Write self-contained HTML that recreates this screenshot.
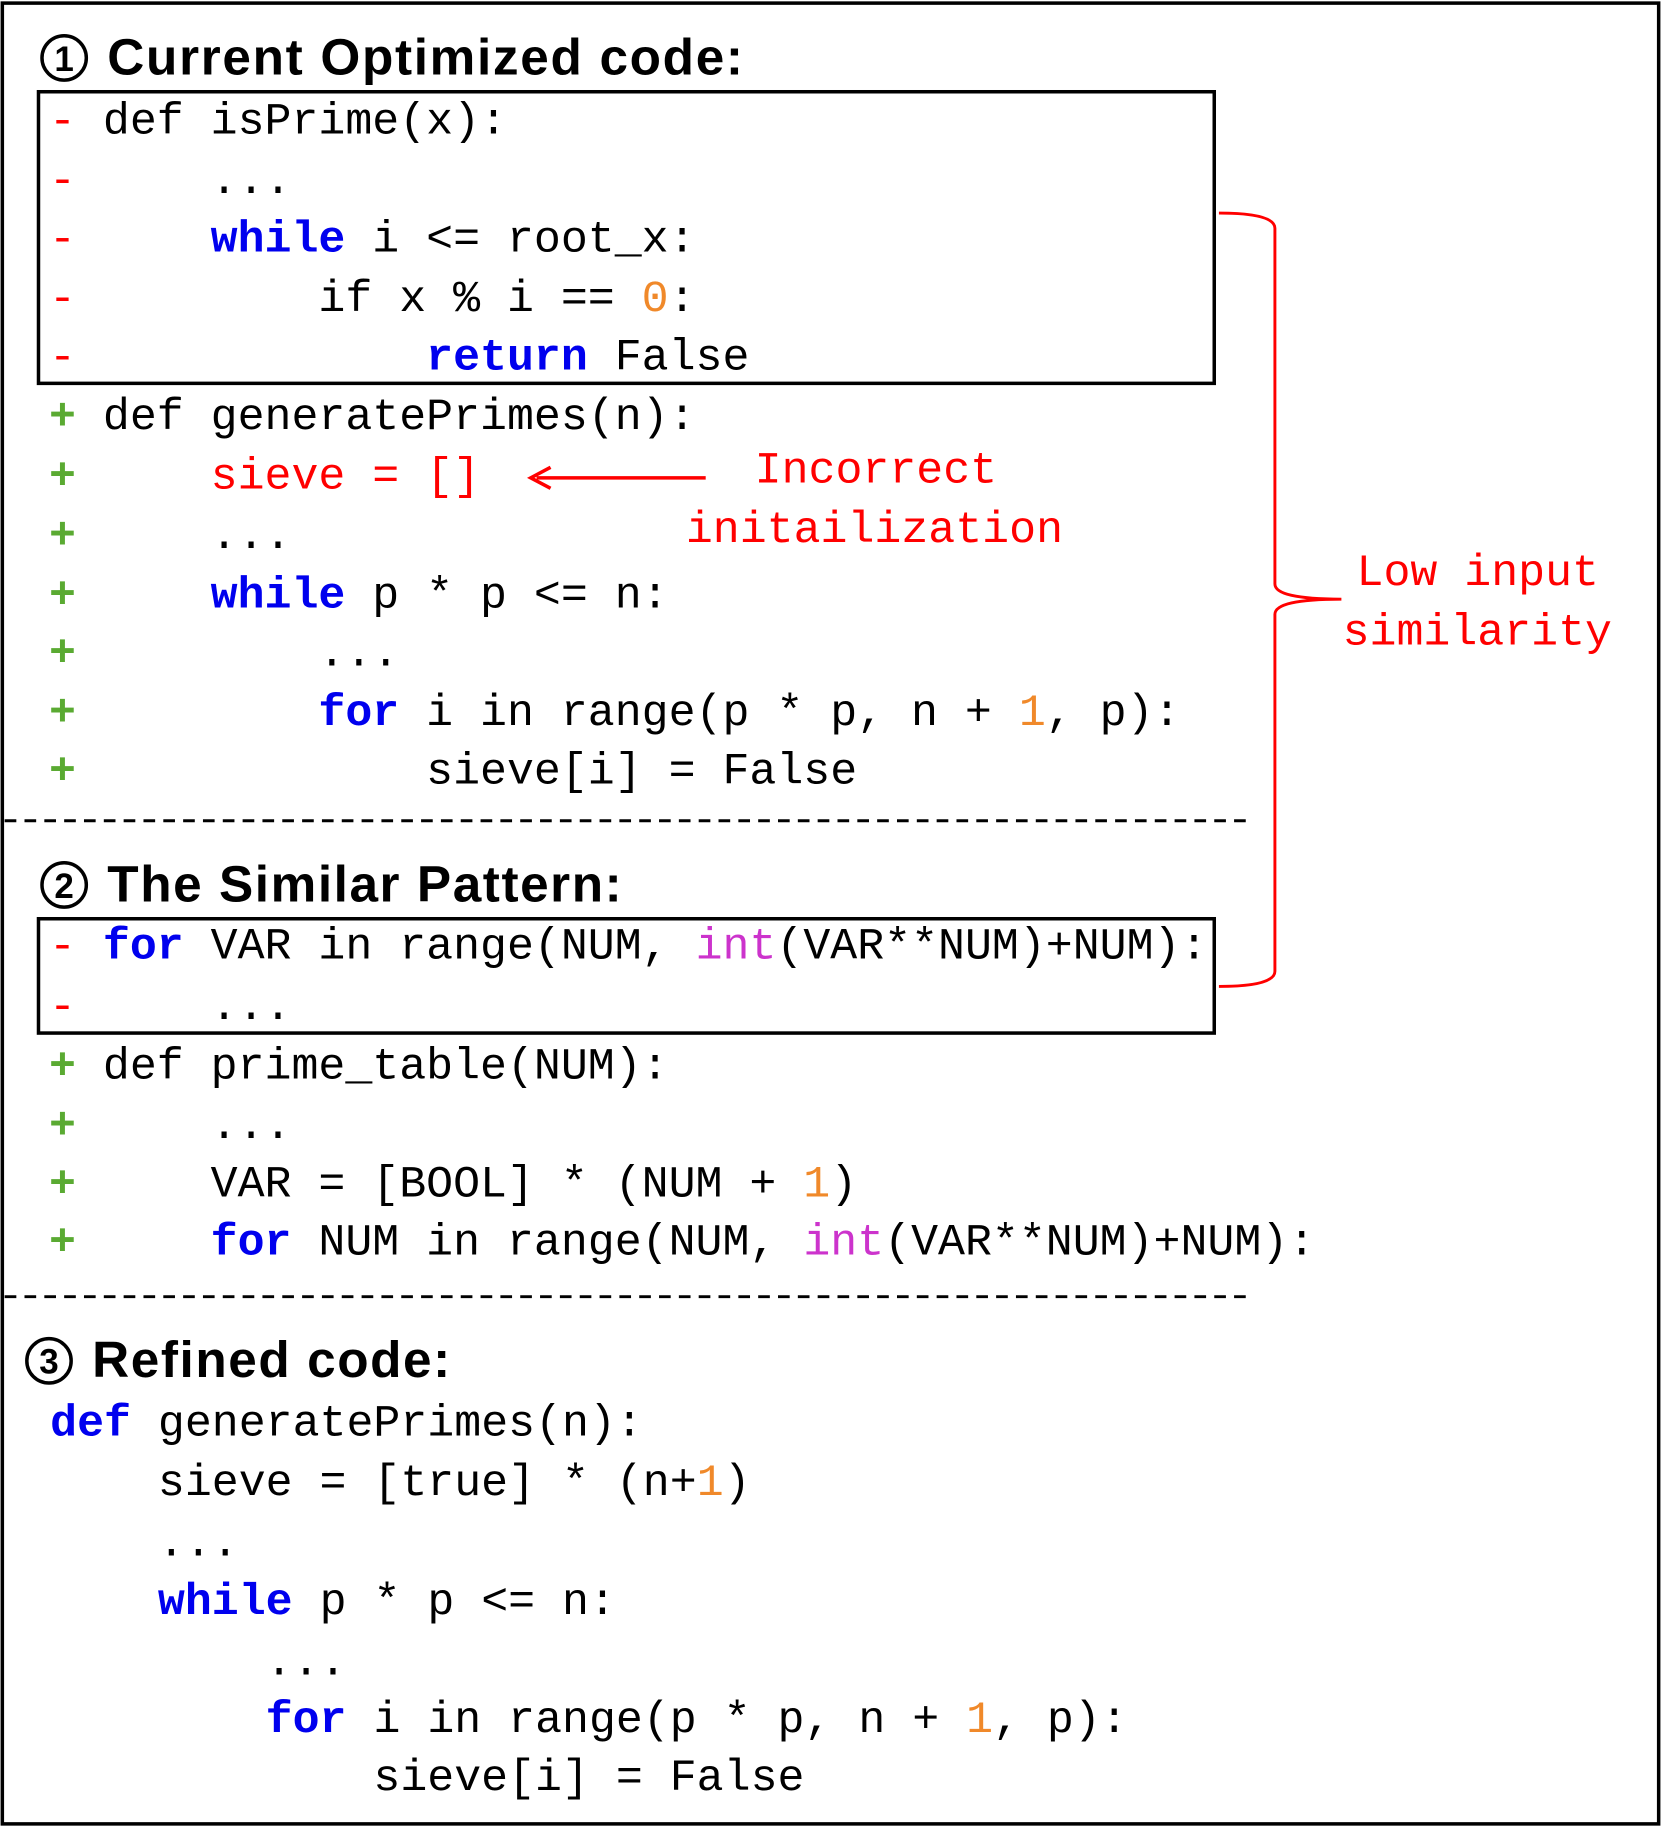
<!DOCTYPE html>
<html><head><meta charset="utf-8"><style>
html,body{margin:0;padding:0;background:#fff;}
svg{display:block;}
svg text{white-space:pre;}
.c{font-family:"Liberation Mono",monospace;font-size:38.5px;fill:#000;}
.t{font-family:"Liberation Sans",sans-serif;font-weight:bold;font-size:44px;fill:#000;}
.k{fill:#0000ee;font-weight:bold;}
.n{fill:#f0892a;}
.m{fill:#cc33cc;}
.r{fill:#ff0000;}
.g{fill:#5aaa32;font-weight:bold;}
.a{font-family:"Liberation Mono",monospace;font-size:38.5px;fill:#ff0000;}
</style></head><body>
<svg width="1661" height="1827" viewBox="0 0 1424 1565" xmlns="http://www.w3.org/2000/svg">
<rect x="2" y="2" width="1420" height="1561" fill="#fff" stroke="#000" stroke-width="3"/>
<circle cx="55" cy="49" r="19" fill="none" stroke="#000" stroke-width="3"/>
<text x="55" y="60" text-anchor="middle" class="t" style="font-size:30px">1</text>
<text x="92" y="63" class="t" textLength="545">Current Optimized code:</text>
<circle cx="55" cy="758" r="19" fill="none" stroke="#000" stroke-width="3"/>
<text x="55" y="769" text-anchor="middle" class="t" style="font-size:30px">2</text>
<text x="92" y="772" class="t" textLength="441">The Similar Pattern:</text>
<circle cx="42" cy="1166" r="19" fill="none" stroke="#000" stroke-width="3"/>
<text x="42" y="1177" text-anchor="middle" class="t" style="font-size:30px">3</text>
<text x="79" y="1180" class="t" textLength="307">Refined code:</text>
<rect x="33" y="78" width="1008" height="250" fill="none" stroke="#000" stroke-width="3"/>
<rect x="33" y="787" width="1008" height="98" fill="none" stroke="#000" stroke-width="3"/>
<line x1="4" y1="703" x2="1068" y2="703" stroke="#000" stroke-width="2.5" stroke-dasharray="10,7"/>
<line x1="4" y1="1111" x2="1068" y2="1111" stroke="#000" stroke-width="2.5" stroke-dasharray="10,7"/>
<path d="M1045 182 Q1093 182 1093 195 L1093 500 Q1093 513 1150 513 Q1093 513 1093 526 L1093 832 Q1093 845 1045 845" fill="none" stroke="#ff0000" stroke-width="2.5"/>
<text x="1163" y="501" class="a">Low input</text>
<text x="1151" y="552" class="a">similarity</text>
<line x1="605" y1="409" x2="460" y2="409" stroke="#ff0000" stroke-width="3"/>
<path d="M472 400 L455 409 L472 418" fill="none" stroke="#ff0000" stroke-width="3"/>
<text x="647" y="413" class="a">Incorrect</text>
<text x="588" y="464" class="a">initailization</text>
<g class="c">
<text x="42" y="114"><tspan class="r">-</tspan> def isPrime(x):</text>
<text x="42" y="165"><tspan class="r">-</tspan>     ...</text>
<text x="42" y="215"><tspan class="r">-</tspan>     <tspan class="k">while</tspan> i &lt;= root_x:</text>
<text x="42" y="266"><tspan class="r">-</tspan>         if x % i == <tspan class="n">0</tspan>:</text>
<text x="42" y="316"><tspan class="r">-</tspan>             <tspan class="k">return</tspan> False</text>
<text x="42" y="367"><tspan class="g">+</tspan> def generatePrimes(n):</text>
<text x="42" y="418"><tspan class="g">+</tspan>     <tspan class="r">sieve = []</tspan></text>
<text x="42" y="469"><tspan class="g">+</tspan>     ...</text>
<text x="42" y="520"><tspan class="g">+</tspan>     <tspan class="k">while</tspan> p * p &lt;= n:</text>
<text x="42" y="570"><tspan class="g">+</tspan>         ...</text>
<text x="42" y="621"><tspan class="g">+</tspan>         <tspan class="k">for</tspan> i in range(p * p, n + <tspan class="n">1</tspan>, p):</text>
<text x="42" y="671"><tspan class="g">+</tspan>             sieve[i] = False</text>
<text x="42" y="821"><tspan class="r">-</tspan> <tspan class="k">for</tspan> VAR in range(NUM, <tspan class="m">int</tspan>(VAR**NUM)+NUM):</text>
<text x="42" y="873"><tspan class="r">-</tspan>     ...</text>
<text x="42" y="924"><tspan class="g">+</tspan> def prime_table(NUM):</text>
<text x="42" y="975"><tspan class="g">+</tspan>     ...</text>
<text x="42" y="1025"><tspan class="g">+</tspan>     VAR = [BOOL] * (NUM + <tspan class="n">1</tspan>)</text>
<text x="42" y="1075"><tspan class="g">+</tspan>     <tspan class="k">for</tspan> NUM in range(NUM, <tspan class="m">int</tspan>(VAR**NUM)+NUM):</text>
<text x="43" y="1230"><tspan class="k">def</tspan> generatePrimes(n):</text>
<text x="43" y="1281">    sieve = [true] * (n+<tspan class="n">1</tspan>)</text>
<text x="43" y="1333">    ...</text>
<text x="43" y="1383">    <tspan class="k">while</tspan> p * p &lt;= n:</text>
<text x="43" y="1435">        ...</text>
<text x="43" y="1484">        <tspan class="k">for</tspan> i in range(p * p, n + <tspan class="n">1</tspan>, p):</text>
<text x="43" y="1534">            sieve[i] = False</text>
</g>
</svg>
</body></html>
